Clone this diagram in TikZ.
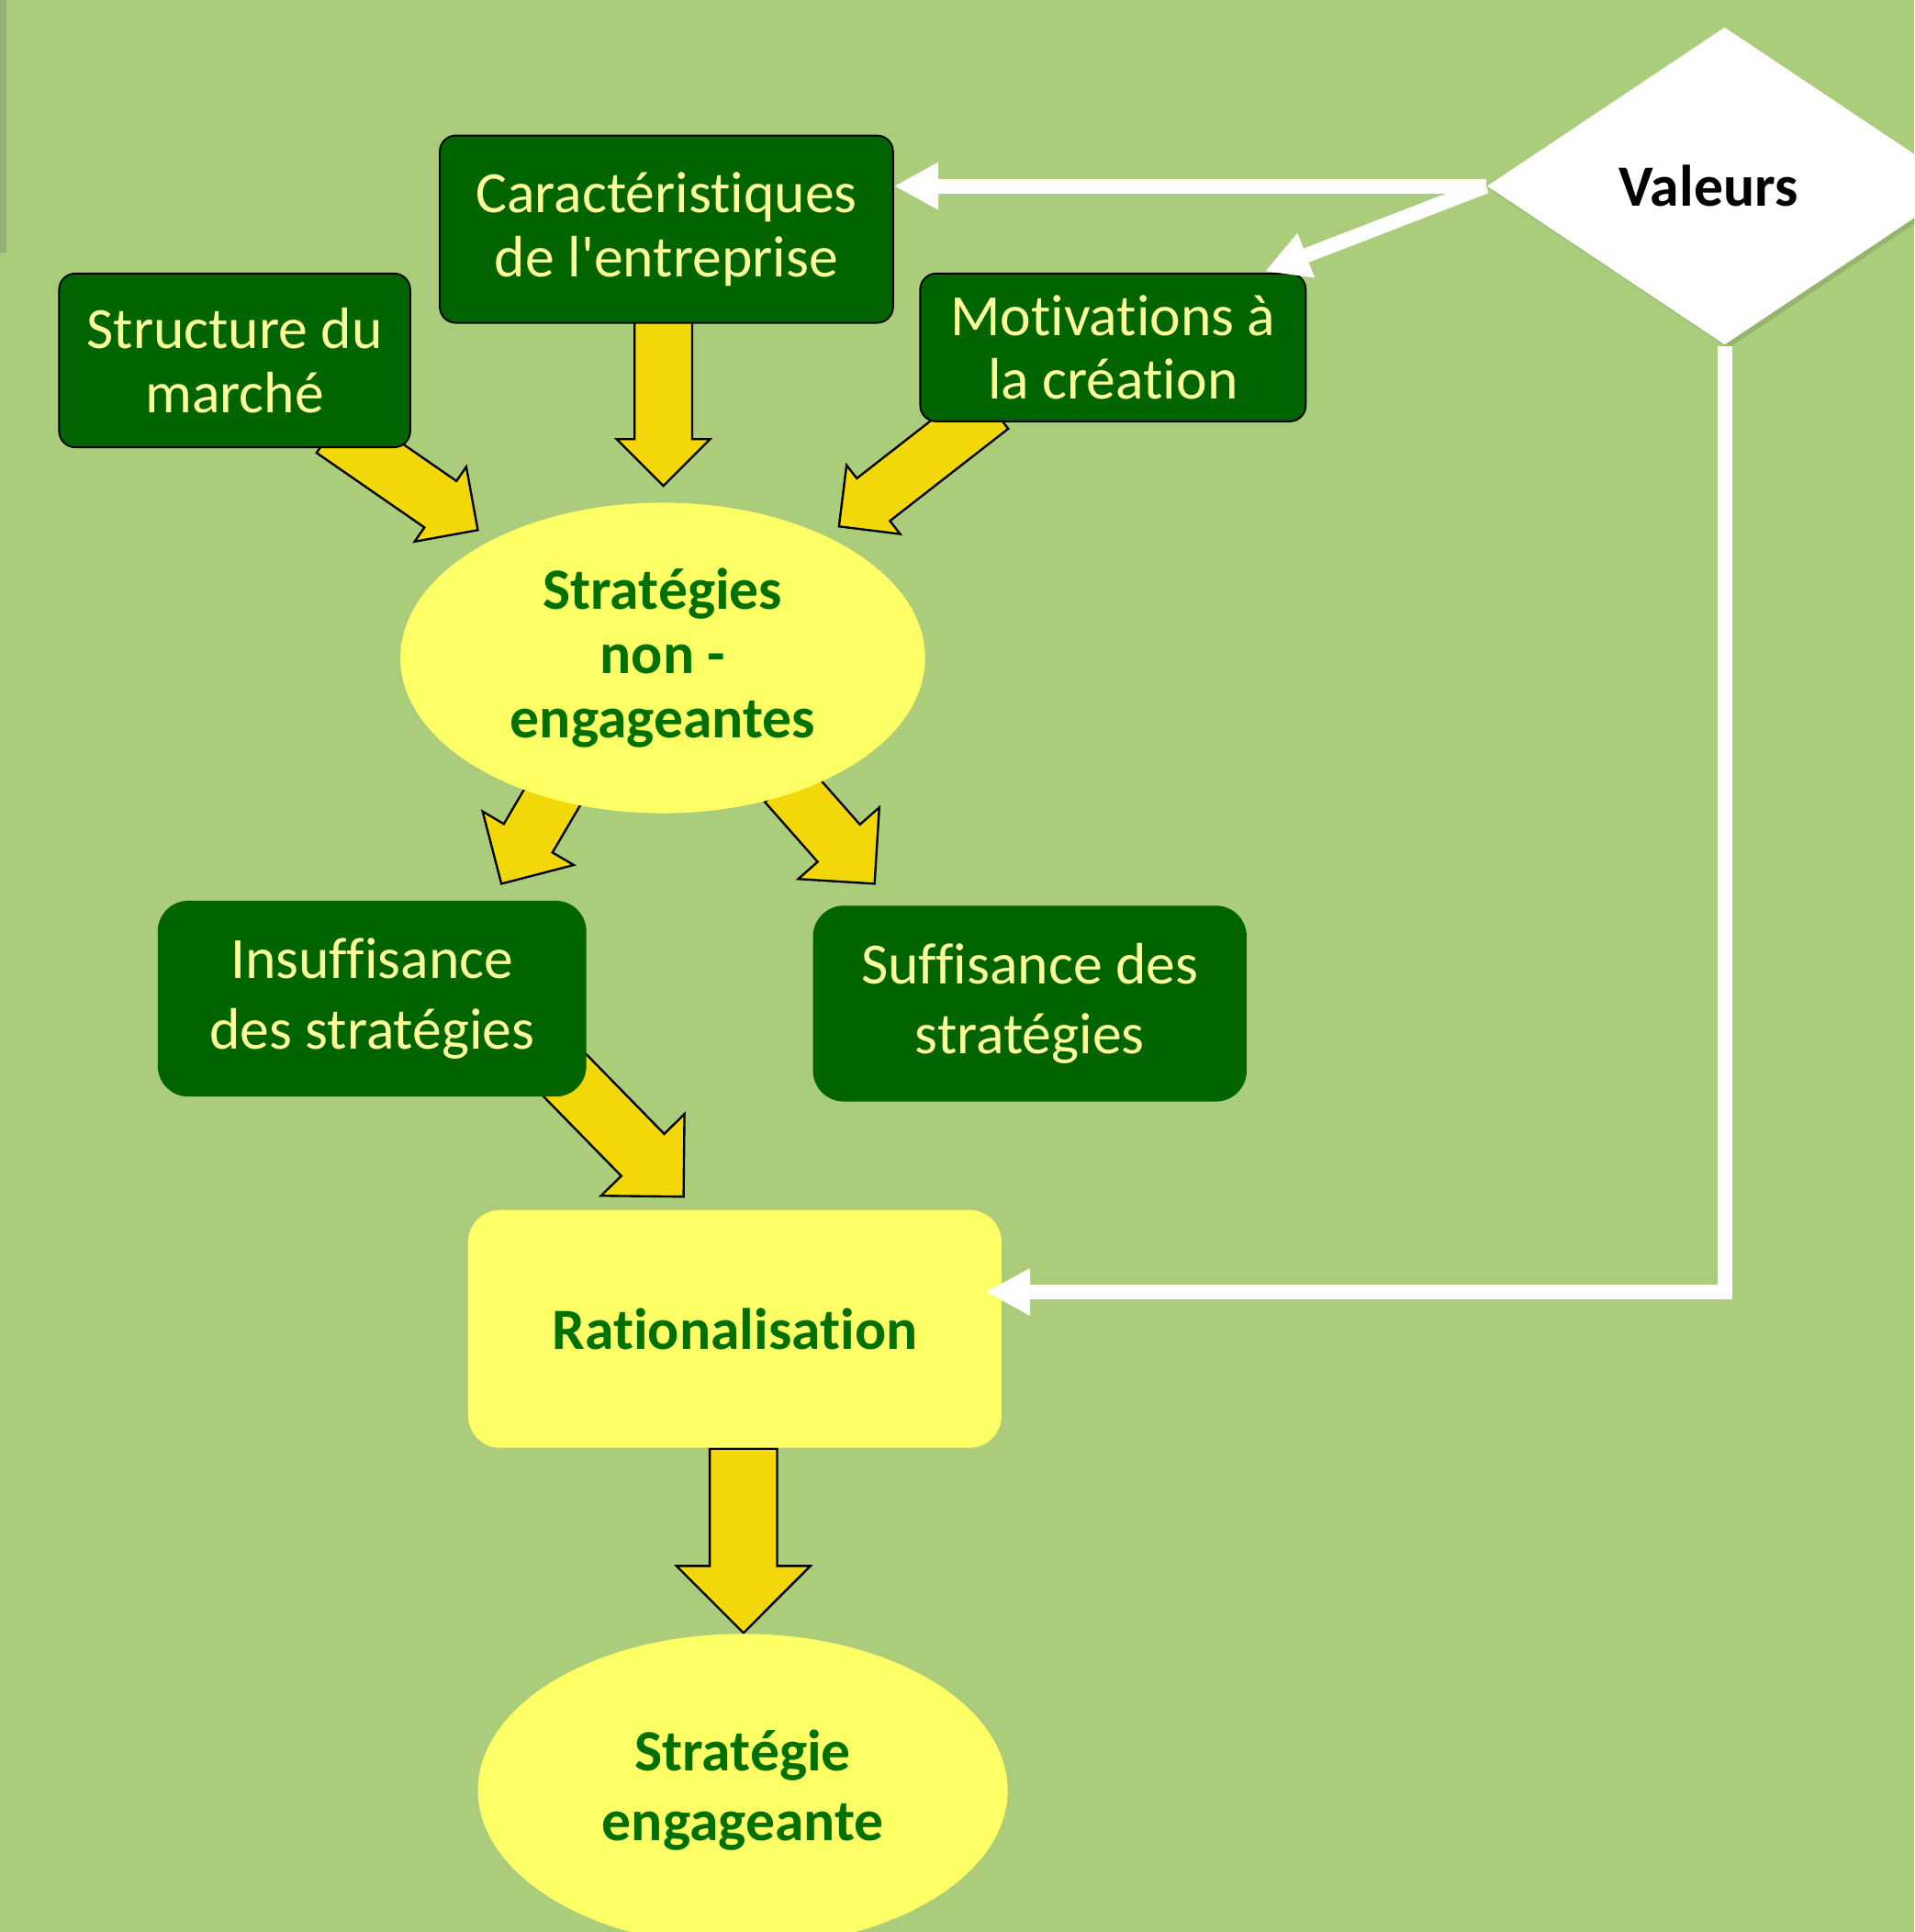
\documentclass[tikz,border=0pt]{standalone}
\usepackage{fontspec}
\setmainfont{Carlito}[Ligatures={TeXOff,CommonOff}]
\usepackage{tikz}
\usetikzlibrary{calc,shapes.geometric,shapes.arrows,arrows.meta,shadows}
\pgfdeclarelayer{bg}
\pgfsetlayers{bg,main}

\definecolor{fond}{RGB}{171,205,123}
\definecolor{bord}{RGB}{150,175,118}
\definecolor{vertfonce}{RGB}{0,100,0}
\definecolor{textejaune}{RGB}{255,255,153}
\definecolor{jaune}{RGB}{255,255,102}
\definecolor{jaunebloc}{RGB}{242,216,8}
\definecolor{vertgras}{RGB}{0,112,0}

\tikzset{
  boite/.style={rectangle, draw=black, line width=0.4pt, fill=vertfonce, text=textejaune,
    align=center, inner sep=0pt, rounded corners=0.13cm,
    font={\fontsize{13.5}{14.8}\selectfont}},
  boitebas/.style={boite, draw=none, rounded corners=0.25cm,
    font={\fontsize{13.5}{16.2}\selectfont}},
  bulle/.style={ellipse, fill=jaune, text=vertgras, align=center, inner sep=0pt,
    font={\fontsize{13.5}{14.8}\selectfont\bfseries}},
  bloc/.style={single arrow, draw=black, line width=0.5pt, fill=jaunebloc,
    inner xsep=0pt, single arrow tip angle=90, outer sep=0pt, minimum width=0pt},
  lien/.style={draw=white, line width=0.12cm, -{Triangle[length=0.36cm, width=0.36cm]}}
}

%% block arrow from #2 to #3, as a rotated single arrow
\newcommand{\blocfleche}[3][]{%
  \path let \p1=#2, \p2=#3, \n1={atan2(\y2-\y1,\x2-\x1)}, \n2={veclen(\x2-\x1,\y2-\y1)} in
    node[bloc, #1, anchor=tail, rotate=\n1, minimum height=\n2] at (\p1) {};
}

\begin{document}
\begin{tikzpicture}
		\useasboundingbox (0,0) rectangle (15.54,-15.68);

		%% Top boxes
		\node[boite, minimum width=2.85cm, minimum height=1.41cm] (structure) at (1.905,-2.925) {Structure du\\marché};
		\node[boite, minimum width=3.68cm, minimum height=1.52cm] (caract) at (5.41,-1.86) {Caractéristiques\\de l'entreprise};
		\node[boite, minimum width=3.13cm, minimum height=1.20cm] (motiv) at (9.035,-2.82) {Motivations à\\la création};

		% Valeurs
		\node[diamond, fill=white, inner sep=0pt, minimum width=3.86cm, minimum height=2.58cm,
		  drop shadow={shadow xshift=0.03cm, shadow yshift=-0.03cm, fill=black, opacity=0.12},
		  font={\fontsize{13.5}{14.8}\selectfont\bfseries}] (valeurs) at (14.00,-1.51) {\hspace*{-0.26cm}Valeurs};

		%% Middle
		\node[bulle, minimum width=4.26cm, minimum height=2.52cm] (nonengag) at (5.38,-5.34) {Stratégies\\non -\\engageantes};
		\node[boitebas, minimum width=3.48cm, minimum height=1.59cm] (insuff) at (3.02,-8.105) {Insuffisance\\des stratégies};
		\node[boitebas, minimum width=3.52cm, minimum height=1.59cm] (suff) at (8.36,-8.145) {Suffisance des\\stratégies};

		%% Bottom
		\node[rectangle, fill=jaune, text=vertgras, rounded corners=0.26cm, inner sep=0pt,
		  minimum width=4.33cm, minimum height=1.93cm,
		  font={\fontsize{13.5}{14.8}\selectfont\bfseries}] (ratio) at (5.965,-10.785) {Rationalisation};
		\node[bulle, minimum width=4.30cm, minimum height=2.54cm,
		  font={\fontsize{13.5}{16.2}\selectfont\bfseries}] (engag) at (6.03,-14.53) {Stratégie\\engageante};

		% white links from Valeurs
		\draw[lien] (valeurs.west) -- (valeurs.west -| caract.east);
		\draw[lien] (valeurs.west) -- ($(motiv.north east)+(-0.34,0.01)$);
		\draw[lien] (valeurs.south) |- ($(ratio.east)+(-0.135,0.30)$);

		\begin{pgfonlayer}{bg}
			\fill[fond] (0,0) rectangle (15.54,-15.68);
			\fill[bord] (0,0) rectangle (0.05,-2.05);

			%% Yellow block arrows
			\blocfleche[inner ysep=0.22cm, single arrow head extend=0.14cm]{($(structure.south)+(0.795,0.15)$)}{($(nonengag.north)+(-1.50,-0.23)$)}
			\blocfleche[inner ysep=0.225cm, single arrow head extend=0.145cm]{($(caract.south)+(-0.025,0.12)$)}{($(nonengag.north)+(0.005,0.13)$)}
			\blocfleche[inner ysep=0.21cm, single arrow head extend=0.135cm]{($(motiv.south)+(-0.985,0.12)$)}{($(nonengag.north)+(1.43,-0.20)$)}
			\blocfleche[inner ysep=0.22cm, single arrow head extend=0.20cm]{($(nonengag.south)+(-0.76,0.37)$)}{($(insuff.north)+(1.05,0.13)$)}
			\blocfleche[inner ysep=0.22cm, single arrow head extend=0.21cm]{($(nonengag.south)+(1.00,0.25)$)}{($(suff.north)+(-1.26,0.17)$)}
			\blocfleche[inner ysep=0.235cm, single arrow head extend=0.23cm]{($(insuff.south)+(1.35,0.40)$)}{($(ratio.north)+(-0.415,0.10)$)}
			\blocfleche[inner ysep=0.265cm, single arrow head extend=0.27cm]{($(ratio.south)+(0.07,0)$)}{($(engag.north)+(0.005,0)$)}
		\end{pgfonlayer}
	\end{tikzpicture}
\end{document}
